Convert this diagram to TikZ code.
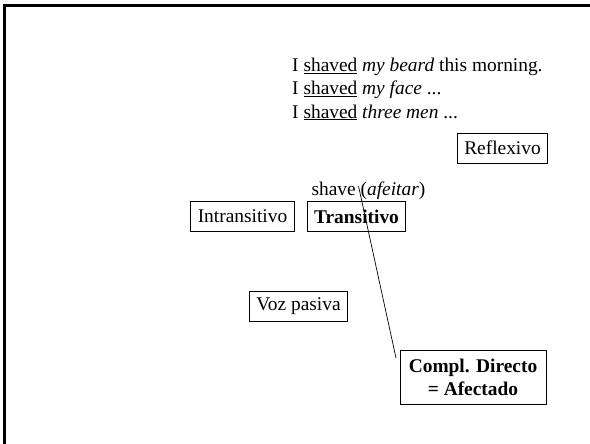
\documentclass[tikz,border=0pt]{standalone}
\usepackage{fontspec}
\setmainfont{Liberation Serif}
\usepackage{tikz}
\usepackage{tkz-graph}
\usetikzlibrary{arrows}

\begin{document}
\begin{tikzpicture}[x=1pt,y=-1pt]
\useasboundingbox (0,0) rectangle (590,444);
\GraphInit[vstyle=Normal]
\SetVertexNormal[Shape = rectangle, LineWidth = 0.8pt, FillColor = white, OuterSep = 0pt, InnerSep = 7pt, MinSize = 0pt]
\tikzset{VertexStyle/.append style={font=\fontsize{19.4}{23}\selectfont, inner ysep=6pt, minimum height=30pt, align=center}}
\tikzset{phrase/.style={anchor=base west, inner sep=0pt, font=\fontsize{19.4}{23}\selectfont}}
% frame of the slide
\draw[line width=3pt] (4.5,444) -- (4.5,6) -- (590,6);
% example sentences
\node[phrase] (beard) at (292,72) {I \underline{shaved} \textit{my beard} this morning.};
\node[phrase] (face) at (292,95) {I \underline{shaved} \textit{my face} ...};
\node[phrase] (men) at (292,118) {I \underline{shaved} \textit{three men} ...};
\node[phrase, anchor=base] (shave) at (368.5,195) {shave (\textit{afeitar})};
\Vertex[x=502.5, y=148, L={Reflexivo}]{refl}
\Vertex[x=242.5, y=216, L={Intransitivo}]{intr}
\Vertex[x=356.5, y=216.5, L={\textbf{Transitivo}}]{trans}
\Vertex[x=298.5, y=306, L={Voz pasiva}]{pasiva}
\tikzset{VertexStyle/.append style={minimum height=54pt, minimum width=146pt}}
\Vertex[x=473, y=377, L={\textbf{Compl. Directo}\\\textbf{= Afectado}}]{compl}
\tikzset{EdgeStyle/.style={-, line width=0.7pt}}
\coordinate (cut) at ([xshift=-10pt, yshift=9pt]shave.base);
\coordinate (foot) at ([xshift=-4pt, yshift=-8pt]compl.north west);
\draw[EdgeStyle] (cut) -- (foot);
\end{tikzpicture}
\end{document}
